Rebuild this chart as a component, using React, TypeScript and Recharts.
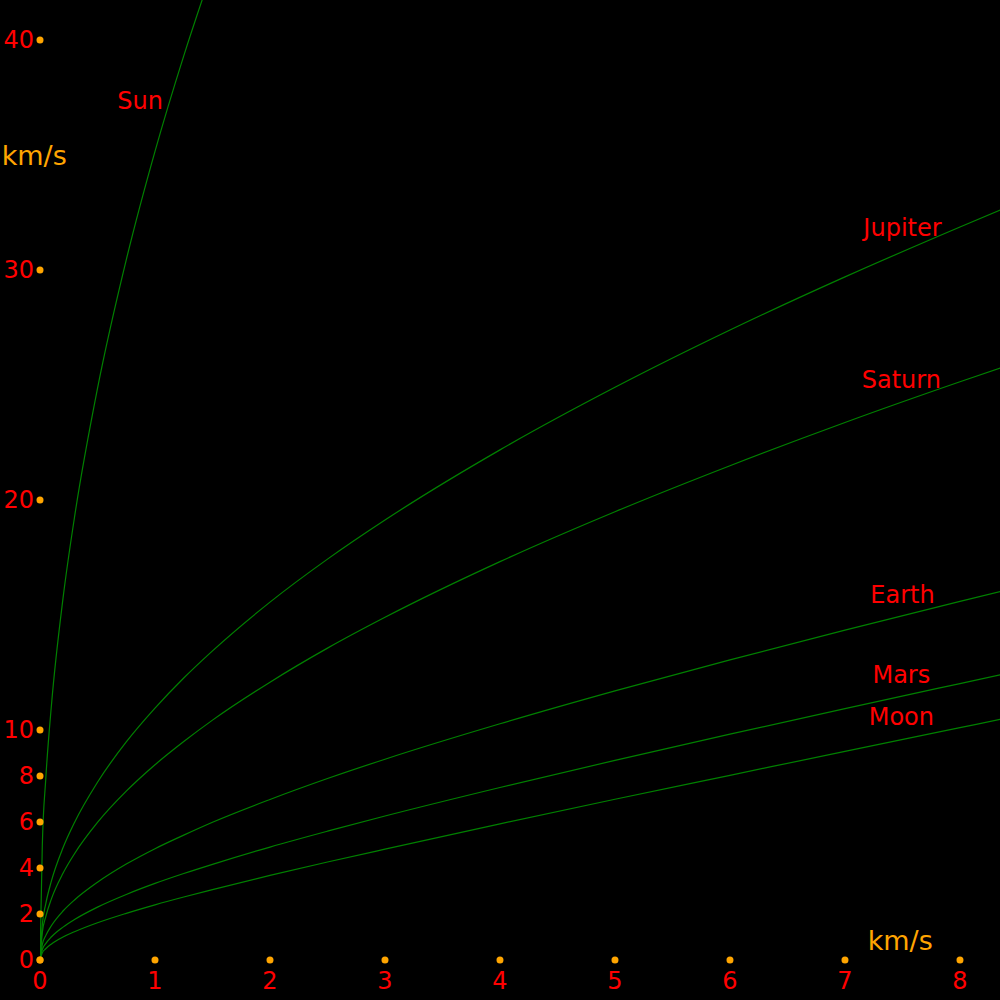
import React from 'react'
import { LineChart, Line, XAxis, YAxis, ReferenceDot } from 'recharts'

// horizontal samples (km/s)
const xs = [0, 0.02, 0.05, 0.1, 0.2, 0.3, 0.5, 0.75, 1, 1.25, 1.5, 2, 2.5, 3, 4, 5, 6, 7, 8, 8.35]

const sun = [0, 4.97, 7.86, 11.11, 15.72, 19.25, 24.85, 30.44, 35.16, 39.31, 43.07]
const jupiter = [0, 1.54, 2.44, 3.45, 4.88, 5.98, 7.73, 9.48, 10.95, 12.26, 13.44, 15.56, 17.43, 19.13, 22.18, 24.9, 27.39, 29.7, 31.87, 32.61]
const saturn = [0, 1.19, 1.88, 2.67, 3.77, 4.62, 5.98, 7.34, 8.49, 9.5, 10.43, 12.08, 13.56, 14.9, 17.32, 19.49, 21.49, 23.37, 25.14, 25.74]
const earth = [0, 0.67, 1.06, 1.5, 2.13, 2.61, 3.38, 4.17, 4.84, 5.43, 5.99, 6.98, 7.89, 8.73, 10.27, 11.7, 13.05, 14.34, 15.59, 16.02]
const mars = [0, 0.45, 0.71, 1.01, 1.43, 1.76, 2.3, 2.85, 3.33, 3.76, 4.16, 4.91, 5.6, 6.26, 7.5, 8.68, 9.82, 10.93, 12.02, 12.4]
const moon = [0, 0.31, 0.49, 0.7, 1.0, 1.23, 1.62, 2.03, 2.4, 2.74, 3.06, 3.68, 4.26, 4.82, 5.92, 6.99, 8.03, 9.07, 10.1, 10.46]

const xTicks = [0, 1, 2, 3, 4, 5, 6, 7, 8]
const yTicks = [0, 2, 4, 6, 8, 10, 20, 30, 40]

const names = ['Sun', 'Jupiter', 'Saturn', 'Earth', 'Mars', 'Moon']
const series = [sun, jupiter, saturn, earth, mars, moon]
const labelX = [0.87, 7.5, 7.49, 7.5, 7.49, 7.49]
const labelY = [37.35, 31.83, 25.22, 15.87, 12.39, 10.56]

const data = xs.map((x, i) => {
  const row: Record<string, number | undefined> = { x }
  names.forEach((n, k) => { row[n] = series[k][i] })
  return row
})

const font = 'DejaVu Sans, sans-serif'

const XTick = (props: any) => {
  const { x, y, payload } = props
  return (
    <g>
      <circle cx={x} cy={y} r={3.5} fill="orange" />
      <text x={x} y={y + 21} textAnchor="middle" dominantBaseline="central" fill="red" fontSize={24} fontFamily={font}>
        {payload.value}
      </text>
    </g>
  )
}

const YTick = (props: any) => {
  const { x, y, payload } = props
  return (
    <g>
      <circle cx={x} cy={y} r={3.5} fill="orange" />
      <text x={x - 6} y={y} textAnchor="end" dominantBaseline="central" fill="red" fontSize={24} fontFamily={font}>
        {payload.value}
      </text>
    </g>
  )
}

const textShape = (txt: string, color: string, size = 24) => (p: any) => (
  <text x={p.cx} y={p.cy} textAnchor="middle" dominantBaseline="central" fill={color} fontSize={size} fontFamily={font}>
    {txt}
  </text>
)

export default function App() {
  return (
    <div style={{ width: 1000, height: 1000, background: '#000' }}>
      <style>{'body{margin:0;background:#000}'}</style>
      <LineChart width={1000} height={1000} data={data} margin={{ top: 0, right: 0, left: 0, bottom: 0 }}>
        <XAxis
          dataKey="x"
          type="number"
          domain={[0, 8.348]}
          ticks={xTicks}
          height={40}
          axisLine={false}
          tickLine={false}
          tickSize={0}
          tickMargin={0}
          tick={<XTick />}
          allowDataOverflow
          interval={0}
        />
        <YAxis
          type="number"
          domain={[0, 41.74]}
          ticks={yTicks}
          width={40}
          axisLine={false}
          tickLine={false}
          tickSize={0}
          tickMargin={0}
          tick={<YTick />}
          allowDataOverflow
          interval={0}
        />
        {names.map((n) => (
          <Line key={n} type="monotone" dataKey={n} stroke="#008000" strokeWidth={1.2} dot={false} isAnimationActive={false} connectNulls={false} />
        ))}
        {names.map((n, i) => (
          <ReferenceDot key={'l' + n} x={labelX[i]} y={labelY[i]} r={0} ifOverflow="visible" shape={textShape(n, 'red')} />
        ))}
        <ReferenceDot x={-0.05} y={34.96} r={0} ifOverflow="visible" shape={textShape('km/s', 'orange', 27)} />
        <ReferenceDot x={7.48} y={0.83} r={0} ifOverflow="visible" shape={textShape('km/s', 'orange', 27)} />
      </LineChart>
    </div>
  )
}
